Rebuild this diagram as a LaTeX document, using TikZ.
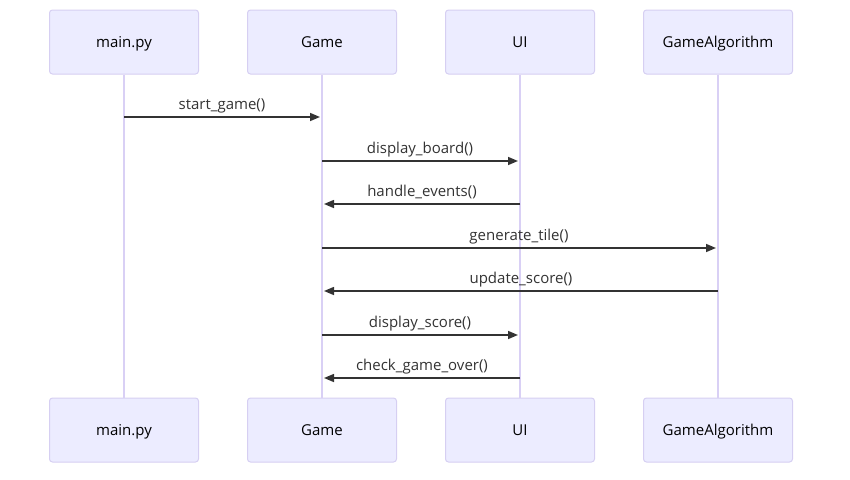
\documentclass[tikz,border=0pt]{standalone}
\usepackage{fontspec}
\setmainfont{Open Sans}
\usetikzlibrary{arrows.meta}
\definecolor{actfill}{HTML}{ECECFF}
\definecolor{actborder}{HTML}{D6CFF2}
\definecolor{lifeline}{HTML}{D9D0F5}
\definecolor{msgcol}{HTML}{333333}
\begin{document}
\begin{tikzpicture}[x=1pt,y=-1pt,
  actor/.style={draw=actborder,fill=actfill,rounded corners=3pt,minimum width=149pt,minimum height=64pt,line width=1pt,inner sep=0pt,font=\fontsize{15}{17}\selectfont,text=black,text height=10pt,text depth=0pt},
  life/.style={draw=lifeline,line width=1.5pt},
  msg/.style={draw=msgcol,line width=1.5pt,-{Triangle[length=10pt,width=8pt]}},
  lbl/.style={font=\fontsize{15}{17}\selectfont,text=msgcol,anchor=base,yshift=8pt,inner sep=0pt}]
\useasboundingbox (0,0) rectangle (850,479);
\node[actor] (a1) at (124,42) {main.py};
\node[actor] (a2) at (322,42) {Game};
\node[actor] (a3) at (520,42) {UI};
\node[actor] (a4) at (718,42) {GameAlgorithm};
\node[actor] (b1) at (124,430) {main.py};
\node[actor] (b2) at (322,430) {Game};
\node[actor] (b3) at (520,430) {UI};
\node[actor] (b4) at (718,430) {GameAlgorithm};
\draw[life] (a1) -- (b1);
\draw[life] (a2) -- (b2);
\draw[life] (a3) -- (b3);
\draw[life] (a4) -- (b4);
% messages
\coordinate (m1s) at (124,117); \coordinate (m1e) at (320,117);
\draw[msg] (m1s) -- node[lbl] {start\_game()} (m1e);
\coordinate (m2s) at (322,161); \coordinate (m2e) at (518,161);
\draw[msg] (m2s) -- node[lbl] {display\_board()} (m2e);
\coordinate (m3s) at (520,204); \coordinate (m3e) at (324,204);
\draw[msg] (m3s) -- node[lbl] {handle\_events()} (m3e);
\coordinate (m4s) at (322,248); \coordinate (m4e) at (716,248);
\draw[msg] (m4s) -- node[lbl] {generate\_tile()} (m4e);
\coordinate (m5s) at (718,291); \coordinate (m5e) at (324,291);
\draw[msg] (m5s) -- node[lbl] {update\_score()} (m5e);
\coordinate (m6s) at (322,335); \coordinate (m6e) at (518,335);
\draw[msg] (m6s) -- node[lbl] {display\_score()} (m6e);
\coordinate (m7s) at (520,378); \coordinate (m7e) at (324,378);
\draw[msg] (m7s) -- node[lbl] {check\_game\_over()} (m7e);
\end{tikzpicture}
\end{document}
